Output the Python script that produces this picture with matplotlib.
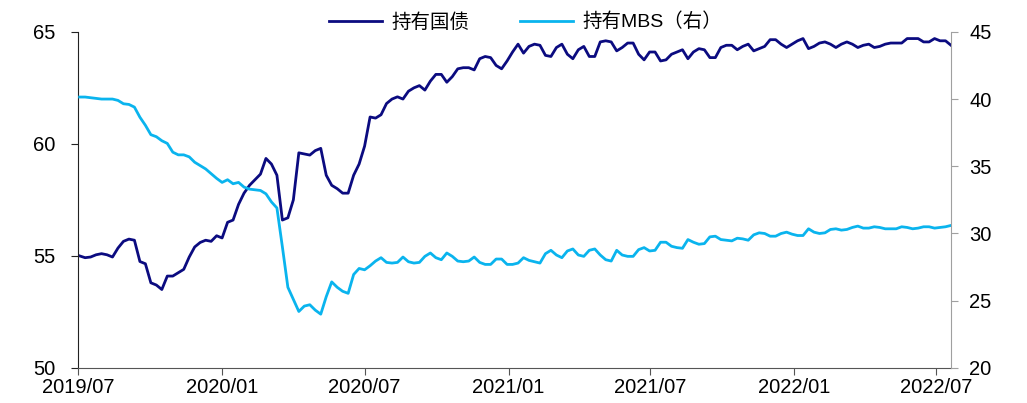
import numpy as np
import pandas as pd
import matplotlib
matplotlib.use("Agg")
import matplotlib.pyplot as plt
import matplotlib.dates as mdates

plt.rcParams['font.family'] = ['Liberation Sans', 'Noto Sans CJK SC']

# 美联储持有资产占比（周度），左轴：国债，右轴：MBS
dates = pd.date_range('2019-07-03', periods=160, freq='7D')

treasury = [
    55.0, 54.92, 54.95, 55.05, 55.1, 55.05, 54.95, 55.35, 55.65, 55.75,
    55.7, 54.75, 54.65, 53.8, 53.7, 53.5, 54.1, 54.1, 54.25, 54.4,
    54.95, 55.4, 55.6, 55.7, 55.65, 55.9, 55.8, 56.5, 56.6, 57.3,
    57.8, 58.15, 58.4, 58.65, 59.35, 59.1, 58.6, 56.6, 56.7, 57.5,
    59.6, 59.55, 59.5, 59.7, 59.8, 58.6, 58.15, 58.0, 57.8, 57.8,
    58.6, 59.1, 59.9, 61.2, 61.15, 61.3, 61.8, 62.0, 62.1, 62.0,
    62.35, 62.5, 62.6, 62.4, 62.8, 63.1, 63.1, 62.75, 63.0, 63.35,
    63.4, 63.4, 63.3, 63.8, 63.9, 63.85, 63.5, 63.35, 63.7, 64.1,
    64.45, 64.05, 64.35, 64.45, 64.4, 63.95, 63.9, 64.3, 64.45, 64.0,
    63.8, 64.2, 64.35, 63.9, 63.9, 64.55, 64.6, 64.55, 64.15, 64.3,
    64.5, 64.5, 64.0, 63.75, 64.1, 64.1, 63.7, 63.75, 64.0, 64.1,
    64.2, 63.8, 64.1, 64.25, 64.2, 63.85, 63.85, 64.3, 64.4, 64.4,
    64.2, 64.35, 64.45, 64.15, 64.25, 64.35, 64.65, 64.65, 64.45, 64.3,
    64.45, 64.6, 64.7, 64.25, 64.35, 64.5, 64.55, 64.45, 64.3, 64.45,
    64.55, 64.45, 64.3, 64.4, 64.45, 64.3, 64.35, 64.45, 64.5, 64.5,
    64.5, 64.7, 64.7, 64.7, 64.55, 64.55, 64.7, 64.6, 64.6, 64.4,
]

mbs = [
    40.15, 40.15, 40.1, 40.05, 40.0, 40.0, 40.0, 39.9, 39.65, 39.6,
    39.4, 38.65, 38.05, 37.35, 37.2, 36.9, 36.7, 36.05, 35.85, 35.85,
    35.7, 35.3, 35.05, 34.8, 34.45, 34.1, 33.8, 34.0, 33.7, 33.8,
    33.45, 33.3, 33.25, 33.2, 32.95, 32.35, 31.9, 29.0, 26.0, 25.1,
    24.2, 24.6, 24.7, 24.3, 24.0, 25.3, 26.4, 26.0, 25.7, 25.55,
    26.95, 27.4, 27.3, 27.6, 27.95, 28.2, 27.85, 27.8, 27.85, 28.25,
    27.9, 27.8, 27.85, 28.3, 28.55, 28.2, 28.05, 28.55, 28.3, 27.95,
    27.9, 27.95, 28.25, 27.85, 27.7, 27.7, 28.1, 28.1, 27.7, 27.7,
    27.8, 28.2, 28.0, 27.9, 27.8, 28.5, 28.75, 28.4, 28.2, 28.7,
    28.85, 28.4, 28.3, 28.75, 28.85, 28.4, 28.05, 27.95, 28.75, 28.4,
    28.3, 28.3, 28.8, 28.95, 28.7, 28.75, 29.35, 29.35, 29.05, 28.95,
    28.9, 29.55, 29.35, 29.2, 29.25, 29.75, 29.8, 29.55, 29.5, 29.45,
    29.65, 29.6, 29.5, 29.9, 30.05, 30.0, 29.8, 29.8, 30.0, 30.1,
    29.95, 29.85, 29.85, 30.35, 30.1, 30.0, 30.05, 30.3, 30.35, 30.25,
    30.3, 30.45, 30.55, 30.4, 30.4, 30.5, 30.45, 30.35, 30.35, 30.35,
    30.5, 30.45, 30.35, 30.4, 30.5, 30.5, 30.4, 30.45, 30.5, 30.6,
]

tick_dates = pd.to_datetime(['2019-07-01', '2020-01-01', '2020-07-01',
                             '2021-01-01', '2021-07-01', '2022-01-01',
                             '2022-07-01'])

fig = plt.figure(figsize=(10.27, 4.03), dpi=100)
ax = fig.add_axes([0.076, 0.087, 0.850, 0.834])
ax2 = ax.twinx()

l1, = ax.plot(dates, treasury, color='#0B0B80', lw=2.0, label='持有国债')
l2, = ax2.plot(dates, mbs, color='#0AB4EE', lw=2.0, label='持有MBS（右）')

ax.set_xlim(pd.Timestamp('2019-07-01'), dates[-1])
ax.set_ylim(50, 65)
ax.set_yticks([50, 55, 60, 65])
ax2.set_ylim(20, 45)
ax2.set_yticks([20, 25, 30, 35, 40, 45])

ax.set_xticks(tick_dates)
ax.xaxis.set_major_formatter(mdates.DateFormatter('%Y/%m'))

for a in (ax, ax2):
    a.spines['top'].set_visible(False)
ax.spines['right'].set_visible(False)
ax.spines['left'].set_color('#222222')
ax.spines['bottom'].set_color('#555555')
ax2.spines['left'].set_visible(False)
ax2.spines['bottom'].set_visible(False)
ax2.spines['right'].set_color('#A0A0A0')

ax.tick_params(axis='y', direction='out', length=5, color='#222222',
               labelsize=14.5, pad=11)
ax.tick_params(axis='x', direction='out', length=5, color='#555555',
               labelsize=14.5, pad=2)
ax2.tick_params(axis='y', direction='out', length=5, color='#A0A0A0',
                labelsize=14.5, pad=8)

fig.legend(handles=[l1, l2], loc='center', bbox_to_anchor=(0.512, 0.945),
           ncol=2, frameon=False, handlelength=2.7,
           columnspacing=2.6, handletextpad=0.5,
           prop={'family': ['Liberation Sans', 'Noto Sans CJK SC'], 'size': 14})

fig.savefig('out.png', dpi=100)
